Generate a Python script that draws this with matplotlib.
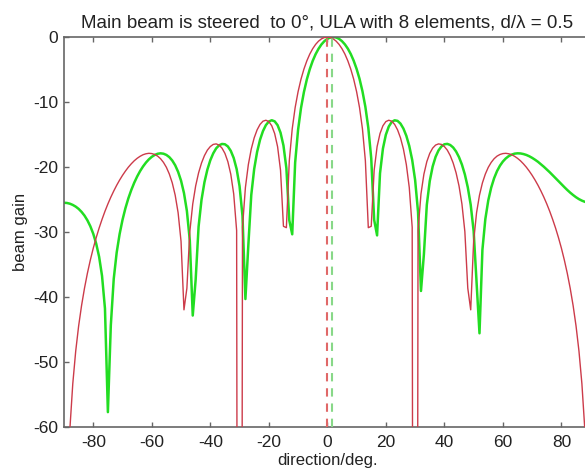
import matplotlib
matplotlib.use("Agg")
import matplotlib.pyplot as plt
import numpy as np

# look directions, 1 deg steps
angles = np.arange(-90, 91)

# steered beam (red), 0..90 deg, pattern is symmetric
red_half = [0.00, -0.07, -0.28, -0.63, -1.13, -1.79, -2.62, -3.66, -4.93, -6.48,
            -8.41, -10.85, -14.13, -19.03, -29.33, -29.12, -20.50, -16.88, -14.85, -13.65,
            -13.01, -12.80, -12.95, -13.44, -14.28, -15.51, -17.23, -19.63, -23.15, -29.27,
            -320.0, -29.77, -24.14, -21.10, -19.17, -17.90, -17.09, -16.62, -16.44, -16.52,
            -16.85, -17.40, -18.24, -19.38, -20.89, -22.90, -25.69, -29.94, -38.64, -41.97,
            -31.43, -27.03, -24.33, -22.44, -21.08, -20.05, -19.29, -18.72, -18.32, -18.07,
            -17.93, -17.89, -17.96, -18.11, -18.35, -18.66, -19.04, -19.50, -20.02, -20.62,
            -21.28, -22.01, -22.81, -23.69, -24.64, -25.68, -26.81, -28.05, -29.39, -30.87,
            -32.49, -34.31, -36.34, -38.65, -41.32, -44.46, -48.33, -53.34, -60.38, -72.40,
            -320.0]
red_gain = red_half[:0:-1] + red_half

# slightly mis-steered beam (green), -90..90 deg
green_gain = [-25.50, -25.53, -25.64, -25.83, -26.09, -26.44, -26.90, -27.47, -28.20, -29.11,
              -30.27, -31.78, -33.80, -36.75, -41.76, -57.71, -44.36, -37.20, -33.17, -30.33,
              -28.12, -26.32, -24.81, -23.53, -22.42, -21.46, -20.63, -19.92, -19.32, -18.82,
              -18.43, -18.14, -17.96, -17.89, -17.95, -18.14, -18.48, -19.00, -19.73, -20.74,
              -22.10, -24.00, -26.76, -31.32, -42.85, -37.30, -29.15, -25.04, -22.34, -20.40,
              -18.96, -17.90, -17.13, -16.66, -16.45, -16.50, -16.83, -17.51, -18.61, -20.31,
              -22.94, -27.52, -40.31, -32.03, -24.31, -20.30, -17.67, -15.80, -14.47, -13.55,
              -13.00, -12.80, -12.97, -13.56, -14.71, -16.68, -20.16, -28.20, -30.35, -19.31,
              -14.27, -10.92, -8.46, -6.51, -4.95, -3.67, -2.63, -1.80, -1.13, -0.63,
              -0.28, -0.07, 0.00, -0.07, -0.28, -0.63, -1.13, -1.78, -2.61, -3.64,
              -4.90, -6.43, -8.34, -10.74, -13.96, -18.65, -28.12, -30.52, -20.97, -17.16,
              -15.03, -13.77, -13.07, -12.81, -12.90, -13.32, -14.08, -15.20, -16.76, -18.91,
              -21.99, -26.92, -39.07, -33.44, -25.81, -22.16, -19.91, -18.43, -17.44, -16.83,
              -16.50, -16.44, -16.61, -16.99, -17.61, -18.48, -19.63, -21.14, -23.12, -25.82,
              -29.85, -37.57, -45.58, -32.74, -28.00, -25.14, -23.17, -21.72, -20.62, -19.79,
              -19.15, -18.67, -18.32, -18.09, -17.94, -17.89, -17.91, -18.00, -18.14, -18.34,
              -18.59, -18.88, -19.20, -19.57, -19.96, -20.37, -20.80, -21.25, -21.71, -22.17,
              -22.64, -23.09, -23.53, -23.94, -24.31, -24.65, -24.94, -25.17, -25.35, -25.45,
              -25.49]

red_dir = 0.0
green_dir = 1.5

x_ticks = [-80, -60, -40, -20, 0, 20, 40, 60, 80]
y_ticks = [-60, -50, -40, -30, -20, -10, 0]

plt.rcParams['font.family'] = ['Liberation Sans', 'DejaVu Sans']
plt.rcParams['axes.unicode_minus'] = False

fig = plt.figure(figsize=(5.85, 4.76), dpi=100)
ax = fig.add_axes([0.1094, 0.1029, 0.9003, 0.8193])

ax.plot(angles, green_gain, color='#22dd22', lw=1.8, zorder=2)
ax.plot(angles, red_gain, color='#cc3b4a', lw=1.0, zorder=3)
ax.plot([red_dir, red_dir], [-60, 0], color='#e06868', lw=1.5, ls=(0, (4, 3.3)), zorder=4)
ax.plot([green_dir, green_dir], [-60, 0], color='#88d888', lw=1.5, ls=(0, (4, 3.3)), zorder=4)

ax.set_xlim(-90, 90)
ax.set_ylim(-60, 0)
ax.set_xticks(x_ticks)
ax.set_yticks(y_ticks)

for s in ax.spines.values():
    s.set_color('#666666')
    s.set_linewidth(1.2)
ax.tick_params(direction='in', length=3.5, width=1.0, color='#666666',
               top=True, right=True, labelsize=12.5, labelcolor='#222222')
ax.tick_params(axis='x', pad=6)
ax.tick_params(axis='y', pad=4)

ax.set_title("Main beam is steered  to 0°, ULA with 8 elements, d/λ = 0.5",
             fontsize=13.5, color='#222222', pad=7)
ax.set_xlabel("direction/deg.", fontsize=12, color='#222222', labelpad=2)
ax.set_ylabel("beam gain", fontsize=12, color='#222222', labelpad=4)

fig.savefig("out.png", dpi=100)
